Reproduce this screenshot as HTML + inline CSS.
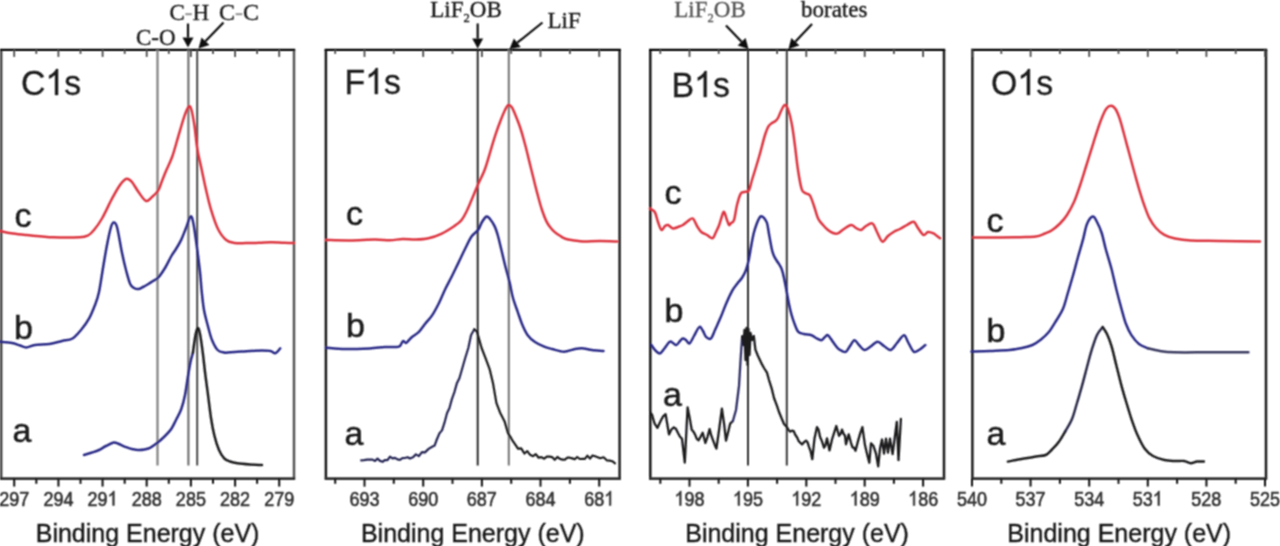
<!DOCTYPE html>
<html><head><meta charset="utf-8"><style>
html,body{margin:0;padding:0;background:#fff;}
body{width:1280px;height:546px;overflow:hidden;}
svg{display:block;}
#wrap{width:1280px;height:546px;}
.tl{font-family:"Liberation Sans",sans-serif;font-size:20px;fill:#333;stroke:#333;stroke-width:0.6;}
.ti{font-family:"Liberation Sans",sans-serif;font-size:36px;fill:#1a1a1a;stroke:#1a1a1a;stroke-width:0.3;}
.ax{font-family:"Liberation Sans",sans-serif;font-size:25px;fill:#1a1a1a;stroke:#1a1a1a;stroke-width:0.4;}
.lb{font-family:"Liberation Sans",sans-serif;font-size:34px;fill:#1a1a1a;stroke:#1a1a1a;stroke-width:0.5;}
.an{font-family:"Liberation Serif",serif;font-size:23px;fill:#1a1a1a;stroke:#1a1a1a;stroke-width:0.35;}
.sub{font-size:12.5px;}
</style></head><body><div id="wrap">
<svg width="1280" height="546" viewBox="0 0 1280 546">
<defs><filter id="bl" filterUnits="userSpaceOnUse" x="0" y="0" width="1280" height="546"><feConvolveMatrix order="3" kernelMatrix="1 2 1 2 4 2 1 2 1" divisor="16" edgeMode="none" preserveAlpha="false"/></filter></defs>
<rect width="1280" height="546" fill="#fff"/>
<g filter="url(#bl)">
<line x1="1.2" y1="49.9" x2="1.2" y2="478.6" stroke="#444" stroke-width="2.5"/>
<line x1="294.0" y1="49.9" x2="294.0" y2="478.6" stroke="#555" stroke-width="2.5"/>
<line x1="-0.1" y1="49.9" x2="295.2" y2="49.9" stroke="#000" stroke-width="2.4"/>
<line x1="-0.1" y1="478.6" x2="295.2" y2="478.6" stroke="#333" stroke-width="2.8"/>
<line x1="14.2" y1="49.9" x2="14.2" y2="56.9" stroke="#4a4a4a" stroke-width="1.8"/>
<line x1="14.2" y1="478.6" x2="14.2" y2="486.6" stroke="#111" stroke-width="2"/>
<line x1="36.3" y1="49.9" x2="36.3" y2="53.9" stroke="#4a4a4a" stroke-width="1.8"/>
<line x1="36.3" y1="478.6" x2="36.3" y2="483.8" stroke="#111" stroke-width="2"/>
<line x1="58.4" y1="49.9" x2="58.4" y2="56.9" stroke="#4a4a4a" stroke-width="1.8"/>
<line x1="58.4" y1="478.6" x2="58.4" y2="486.6" stroke="#111" stroke-width="2"/>
<line x1="80.5" y1="49.9" x2="80.5" y2="53.9" stroke="#4a4a4a" stroke-width="1.8"/>
<line x1="80.5" y1="478.6" x2="80.5" y2="483.8" stroke="#111" stroke-width="2"/>
<line x1="102.6" y1="49.9" x2="102.6" y2="56.9" stroke="#4a4a4a" stroke-width="1.8"/>
<line x1="102.6" y1="478.6" x2="102.6" y2="486.6" stroke="#111" stroke-width="2"/>
<line x1="124.7" y1="49.9" x2="124.7" y2="53.9" stroke="#4a4a4a" stroke-width="1.8"/>
<line x1="124.7" y1="478.6" x2="124.7" y2="483.8" stroke="#111" stroke-width="2"/>
<line x1="146.7" y1="49.9" x2="146.7" y2="56.9" stroke="#4a4a4a" stroke-width="1.8"/>
<line x1="146.7" y1="478.6" x2="146.7" y2="486.6" stroke="#111" stroke-width="2"/>
<line x1="168.8" y1="49.9" x2="168.8" y2="53.9" stroke="#4a4a4a" stroke-width="1.8"/>
<line x1="168.8" y1="478.6" x2="168.8" y2="483.8" stroke="#111" stroke-width="2"/>
<line x1="190.9" y1="49.9" x2="190.9" y2="56.9" stroke="#4a4a4a" stroke-width="1.8"/>
<line x1="190.9" y1="478.6" x2="190.9" y2="486.6" stroke="#111" stroke-width="2"/>
<line x1="213.0" y1="49.9" x2="213.0" y2="53.9" stroke="#4a4a4a" stroke-width="1.8"/>
<line x1="213.0" y1="478.6" x2="213.0" y2="483.8" stroke="#111" stroke-width="2"/>
<line x1="235.1" y1="49.9" x2="235.1" y2="56.9" stroke="#4a4a4a" stroke-width="1.8"/>
<line x1="235.1" y1="478.6" x2="235.1" y2="486.6" stroke="#111" stroke-width="2"/>
<line x1="257.1" y1="49.9" x2="257.1" y2="53.9" stroke="#4a4a4a" stroke-width="1.8"/>
<line x1="257.1" y1="478.6" x2="257.1" y2="483.8" stroke="#111" stroke-width="2"/>
<line x1="279.2" y1="49.9" x2="279.2" y2="56.9" stroke="#4a4a4a" stroke-width="1.8"/>
<line x1="279.2" y1="478.6" x2="279.2" y2="486.6" stroke="#111" stroke-width="2"/>
<g transform="translate(-0.77,505.50) scale(0.900,1)"><text x="0.00" y="0" class="tl">297</text></g>
<g transform="translate(43.39,505.50) scale(0.900,1)"><text x="0.00" y="0" class="tl">294</text></g>
<g transform="translate(87.55,505.50) scale(0.900,1)"><text x="0.00" y="0" class="tl">29</text><path d="M763,0 H583 V1147 Q518,1085 412,1023 T223,930 V1104 Q374,1175 487,1276 T647,1472 H763 Z" transform="translate(22.25,0) scale(0.00977,-0.00977)" fill="#333" stroke="#333" stroke-width="61.4"/></g>
<g transform="translate(131.71,505.50) scale(0.900,1)"><text x="0.00" y="0" class="tl">288</text></g>
<g transform="translate(175.87,505.50) scale(0.900,1)"><text x="0.00" y="0" class="tl">285</text></g>
<g transform="translate(220.03,505.50) scale(0.900,1)"><text x="0.00" y="0" class="tl">282</text></g>
<g transform="translate(264.19,505.50) scale(0.900,1)"><text x="0.00" y="0" class="tl">279</text></g>
<line x1="325.9" y1="49.9" x2="325.9" y2="478.6" stroke="#1a1a1a" stroke-width="2.5"/>
<line x1="619.6" y1="49.9" x2="619.6" y2="478.6" stroke="#222" stroke-width="2.5"/>
<line x1="324.6" y1="49.9" x2="620.9" y2="49.9" stroke="#000" stroke-width="2.4"/>
<line x1="324.6" y1="478.6" x2="620.9" y2="478.6" stroke="#333" stroke-width="2.8"/>
<line x1="335.2" y1="49.9" x2="335.2" y2="53.9" stroke="#4a4a4a" stroke-width="1.8"/>
<line x1="335.2" y1="478.6" x2="335.2" y2="483.8" stroke="#111" stroke-width="2"/>
<line x1="364.5" y1="49.9" x2="364.5" y2="56.9" stroke="#4a4a4a" stroke-width="1.8"/>
<line x1="364.5" y1="478.6" x2="364.5" y2="486.6" stroke="#111" stroke-width="2"/>
<line x1="393.8" y1="49.9" x2="393.8" y2="53.9" stroke="#4a4a4a" stroke-width="1.8"/>
<line x1="393.8" y1="478.6" x2="393.8" y2="483.8" stroke="#111" stroke-width="2"/>
<line x1="423.2" y1="49.9" x2="423.2" y2="56.9" stroke="#4a4a4a" stroke-width="1.8"/>
<line x1="423.2" y1="478.6" x2="423.2" y2="486.6" stroke="#111" stroke-width="2"/>
<line x1="452.5" y1="49.9" x2="452.5" y2="53.9" stroke="#4a4a4a" stroke-width="1.8"/>
<line x1="452.5" y1="478.6" x2="452.5" y2="483.8" stroke="#111" stroke-width="2"/>
<line x1="481.9" y1="49.9" x2="481.9" y2="56.9" stroke="#4a4a4a" stroke-width="1.8"/>
<line x1="481.9" y1="478.6" x2="481.9" y2="486.6" stroke="#111" stroke-width="2"/>
<line x1="511.2" y1="49.9" x2="511.2" y2="53.9" stroke="#4a4a4a" stroke-width="1.8"/>
<line x1="511.2" y1="478.6" x2="511.2" y2="483.8" stroke="#111" stroke-width="2"/>
<line x1="540.5" y1="49.9" x2="540.5" y2="56.9" stroke="#4a4a4a" stroke-width="1.8"/>
<line x1="540.5" y1="478.6" x2="540.5" y2="486.6" stroke="#111" stroke-width="2"/>
<line x1="569.9" y1="49.9" x2="569.9" y2="53.9" stroke="#4a4a4a" stroke-width="1.8"/>
<line x1="569.9" y1="478.6" x2="569.9" y2="483.8" stroke="#111" stroke-width="2"/>
<line x1="599.2" y1="49.9" x2="599.2" y2="56.9" stroke="#4a4a4a" stroke-width="1.8"/>
<line x1="599.2" y1="478.6" x2="599.2" y2="486.6" stroke="#111" stroke-width="2"/>
<g transform="translate(349.48,505.50) scale(0.900,1)"><text x="0.00" y="0" class="tl">693</text></g>
<g transform="translate(408.16,505.50) scale(0.900,1)"><text x="0.00" y="0" class="tl">690</text></g>
<g transform="translate(466.84,505.50) scale(0.900,1)"><text x="0.00" y="0" class="tl">687</text></g>
<g transform="translate(525.52,505.50) scale(0.900,1)"><text x="0.00" y="0" class="tl">684</text></g>
<g transform="translate(584.20,505.50) scale(0.900,1)"><text x="0.00" y="0" class="tl">68</text><path d="M763,0 H583 V1147 Q518,1085 412,1023 T223,930 V1104 Q374,1175 487,1276 T647,1472 H763 Z" transform="translate(22.25,0) scale(0.00977,-0.00977)" fill="#333" stroke="#333" stroke-width="61.4"/></g>
<line x1="650.3" y1="49.9" x2="650.3" y2="478.6" stroke="#1a1a1a" stroke-width="2.5"/>
<line x1="944.0" y1="49.9" x2="944.0" y2="478.6" stroke="#1e1e1e" stroke-width="2.5"/>
<line x1="649.0" y1="49.9" x2="945.2" y2="49.9" stroke="#000" stroke-width="2.4"/>
<line x1="649.0" y1="478.6" x2="945.2" y2="478.6" stroke="#333" stroke-width="2.8"/>
<line x1="660.3" y1="49.9" x2="660.3" y2="53.9" stroke="#4a4a4a" stroke-width="1.8"/>
<line x1="660.3" y1="478.6" x2="660.3" y2="483.8" stroke="#111" stroke-width="2"/>
<line x1="689.5" y1="49.9" x2="689.5" y2="56.9" stroke="#4a4a4a" stroke-width="1.8"/>
<line x1="689.5" y1="478.6" x2="689.5" y2="486.6" stroke="#111" stroke-width="2"/>
<line x1="718.7" y1="49.9" x2="718.7" y2="53.9" stroke="#4a4a4a" stroke-width="1.8"/>
<line x1="718.7" y1="478.6" x2="718.7" y2="483.8" stroke="#111" stroke-width="2"/>
<line x1="747.9" y1="49.9" x2="747.9" y2="56.9" stroke="#4a4a4a" stroke-width="1.8"/>
<line x1="747.9" y1="478.6" x2="747.9" y2="486.6" stroke="#111" stroke-width="2"/>
<line x1="777.1" y1="49.9" x2="777.1" y2="53.9" stroke="#4a4a4a" stroke-width="1.8"/>
<line x1="777.1" y1="478.6" x2="777.1" y2="483.8" stroke="#111" stroke-width="2"/>
<line x1="806.3" y1="49.9" x2="806.3" y2="56.9" stroke="#4a4a4a" stroke-width="1.8"/>
<line x1="806.3" y1="478.6" x2="806.3" y2="486.6" stroke="#111" stroke-width="2"/>
<line x1="835.5" y1="49.9" x2="835.5" y2="53.9" stroke="#4a4a4a" stroke-width="1.8"/>
<line x1="835.5" y1="478.6" x2="835.5" y2="483.8" stroke="#111" stroke-width="2"/>
<line x1="864.7" y1="49.9" x2="864.7" y2="56.9" stroke="#4a4a4a" stroke-width="1.8"/>
<line x1="864.7" y1="478.6" x2="864.7" y2="486.6" stroke="#111" stroke-width="2"/>
<line x1="893.9" y1="49.9" x2="893.9" y2="53.9" stroke="#4a4a4a" stroke-width="1.8"/>
<line x1="893.9" y1="478.6" x2="893.9" y2="483.8" stroke="#111" stroke-width="2"/>
<line x1="923.1" y1="49.9" x2="923.1" y2="56.9" stroke="#4a4a4a" stroke-width="1.8"/>
<line x1="923.1" y1="478.6" x2="923.1" y2="486.6" stroke="#111" stroke-width="2"/>
<g transform="translate(674.48,505.50) scale(0.900,1)"><path d="M763,0 H583 V1147 Q518,1085 412,1023 T223,930 V1104 Q374,1175 487,1276 T647,1472 H763 Z" transform="translate(0.00,0) scale(0.00977,-0.00977)" fill="#333" stroke="#333" stroke-width="61.4"/><text x="11.12" y="0" class="tl">98</text></g>
<g transform="translate(732.89,505.50) scale(0.900,1)"><path d="M763,0 H583 V1147 Q518,1085 412,1023 T223,930 V1104 Q374,1175 487,1276 T647,1472 H763 Z" transform="translate(0.00,0) scale(0.00977,-0.00977)" fill="#333" stroke="#333" stroke-width="61.4"/><text x="11.12" y="0" class="tl">95</text></g>
<g transform="translate(791.30,505.50) scale(0.900,1)"><path d="M763,0 H583 V1147 Q518,1085 412,1023 T223,930 V1104 Q374,1175 487,1276 T647,1472 H763 Z" transform="translate(0.00,0) scale(0.00977,-0.00977)" fill="#333" stroke="#333" stroke-width="61.4"/><text x="11.12" y="0" class="tl">92</text></g>
<g transform="translate(849.71,505.50) scale(0.900,1)"><path d="M763,0 H583 V1147 Q518,1085 412,1023 T223,930 V1104 Q374,1175 487,1276 T647,1472 H763 Z" transform="translate(0.00,0) scale(0.00977,-0.00977)" fill="#333" stroke="#333" stroke-width="61.4"/><text x="11.12" y="0" class="tl">89</text></g>
<g transform="translate(908.12,505.50) scale(0.900,1)"><path d="M763,0 H583 V1147 Q518,1085 412,1023 T223,930 V1104 Q374,1175 487,1276 T647,1472 H763 Z" transform="translate(0.00,0) scale(0.00977,-0.00977)" fill="#333" stroke="#333" stroke-width="61.4"/><text x="11.12" y="0" class="tl">86</text></g>
<line x1="972.4" y1="49.9" x2="972.4" y2="478.6" stroke="#1e1e1e" stroke-width="2.5"/>
<line x1="1266.0" y1="49.9" x2="1266.0" y2="478.6" stroke="#1e1e1e" stroke-width="2.5"/>
<line x1="971.1" y1="49.9" x2="1267.2" y2="49.9" stroke="#000" stroke-width="2.4"/>
<line x1="971.1" y1="478.6" x2="1267.2" y2="478.6" stroke="#333" stroke-width="2.8"/>
<line x1="972.0" y1="49.9" x2="972.0" y2="56.9" stroke="#4a4a4a" stroke-width="1.8"/>
<line x1="972.0" y1="478.6" x2="972.0" y2="486.6" stroke="#111" stroke-width="2"/>
<line x1="1001.3" y1="49.9" x2="1001.3" y2="53.9" stroke="#4a4a4a" stroke-width="1.8"/>
<line x1="1001.3" y1="478.6" x2="1001.3" y2="483.8" stroke="#111" stroke-width="2"/>
<line x1="1030.6" y1="49.9" x2="1030.6" y2="56.9" stroke="#4a4a4a" stroke-width="1.8"/>
<line x1="1030.6" y1="478.6" x2="1030.6" y2="486.6" stroke="#111" stroke-width="2"/>
<line x1="1059.9" y1="49.9" x2="1059.9" y2="53.9" stroke="#4a4a4a" stroke-width="1.8"/>
<line x1="1059.9" y1="478.6" x2="1059.9" y2="483.8" stroke="#111" stroke-width="2"/>
<line x1="1089.2" y1="49.9" x2="1089.2" y2="56.9" stroke="#4a4a4a" stroke-width="1.8"/>
<line x1="1089.2" y1="478.6" x2="1089.2" y2="486.6" stroke="#111" stroke-width="2"/>
<line x1="1118.5" y1="49.9" x2="1118.5" y2="53.9" stroke="#4a4a4a" stroke-width="1.8"/>
<line x1="1118.5" y1="478.6" x2="1118.5" y2="483.8" stroke="#111" stroke-width="2"/>
<line x1="1147.8" y1="49.9" x2="1147.8" y2="56.9" stroke="#4a4a4a" stroke-width="1.8"/>
<line x1="1147.8" y1="478.6" x2="1147.8" y2="486.6" stroke="#111" stroke-width="2"/>
<line x1="1177.1" y1="49.9" x2="1177.1" y2="53.9" stroke="#4a4a4a" stroke-width="1.8"/>
<line x1="1177.1" y1="478.6" x2="1177.1" y2="483.8" stroke="#111" stroke-width="2"/>
<line x1="1206.4" y1="49.9" x2="1206.4" y2="56.9" stroke="#4a4a4a" stroke-width="1.8"/>
<line x1="1206.4" y1="478.6" x2="1206.4" y2="486.6" stroke="#111" stroke-width="2"/>
<line x1="1235.7" y1="49.9" x2="1235.7" y2="53.9" stroke="#4a4a4a" stroke-width="1.8"/>
<line x1="1235.7" y1="478.6" x2="1235.7" y2="483.8" stroke="#111" stroke-width="2"/>
<line x1="1265.0" y1="49.9" x2="1265.0" y2="56.9" stroke="#4a4a4a" stroke-width="1.8"/>
<line x1="1265.0" y1="478.6" x2="1265.0" y2="486.6" stroke="#111" stroke-width="2"/>
<g transform="translate(956.98,505.50) scale(0.900,1)"><text x="0.00" y="0" class="tl">540</text></g>
<g transform="translate(1015.57,505.50) scale(0.900,1)"><text x="0.00" y="0" class="tl">537</text></g>
<g transform="translate(1074.16,505.50) scale(0.900,1)"><text x="0.00" y="0" class="tl">534</text></g>
<g transform="translate(1132.75,505.50) scale(0.900,1)"><text x="0.00" y="0" class="tl">53</text><path d="M763,0 H583 V1147 Q518,1085 412,1023 T223,930 V1104 Q374,1175 487,1276 T647,1472 H763 Z" transform="translate(22.25,0) scale(0.00977,-0.00977)" fill="#333" stroke="#333" stroke-width="61.4"/></g>
<g transform="translate(1191.34,505.50) scale(0.900,1)"><text x="0.00" y="0" class="tl">528</text></g>
<g transform="translate(1249.93,505.50) scale(0.900,1)"><text x="0.00" y="0" class="tl">525</text></g>
<line x1="157.5" y1="49.9" x2="157.5" y2="465.5" stroke="#8a8a8a" stroke-width="2.4"/>
<line x1="188.4" y1="49.9" x2="188.4" y2="465.5" stroke="#6e6e6e" stroke-width="2.1"/>
<line x1="197.2" y1="49.9" x2="197.2" y2="465.5" stroke="#4a4a4a" stroke-width="2.0"/>
<line x1="477.7" y1="49.9" x2="477.7" y2="465.5" stroke="#2a2a2a" stroke-width="2.0"/>
<line x1="508.8" y1="49.9" x2="508.8" y2="465.5" stroke="#7a7a7a" stroke-width="2.1"/>
<line x1="748.0" y1="49.9" x2="748.0" y2="465.5" stroke="#333" stroke-width="2.0"/>
<line x1="786.8" y1="49.9" x2="786.8" y2="465.5" stroke="#3a3a3a" stroke-width="2.0"/>
<path d="M0.0,231.0 C2.2,231.4 8.6,232.8 13.0,233.5 C17.4,234.2 19.8,234.4 26.5,235.0 C33.2,235.6 44.2,236.9 53.0,237.3 C61.8,237.7 73.8,237.6 79.6,237.3 C85.4,237.0 85.6,236.7 88.0,235.5 C90.4,234.3 91.7,232.8 94.0,230.0 C96.3,227.2 99.0,223.7 102.0,218.5 C105.0,213.3 109.0,204.3 112.0,198.7 C115.0,193.1 117.8,188.2 120.0,185.0 C122.2,181.8 123.7,180.5 125.0,179.5 C126.3,178.5 126.8,178.6 128.0,179.0 C129.2,179.4 130.2,179.8 132.0,182.0 C133.8,184.2 136.2,188.8 138.5,192.0 C140.8,195.2 143.8,200.2 146.0,201.0 C148.2,201.8 150.0,198.7 152.0,197.0 C154.0,195.3 156.4,193.4 158.1,190.7 C159.8,188.0 160.7,184.3 162.0,181.0 C163.3,177.7 164.5,174.7 166.2,170.6 C167.9,166.5 170.3,162.2 172.3,156.5 C174.3,150.8 176.3,143.0 178.3,136.3 C180.3,129.6 182.7,121.1 184.4,116.1 C186.2,111.1 187.6,107.5 188.8,106.5 C190.0,105.5 190.6,106.8 191.5,110.0 C192.4,113.2 193.5,119.4 194.5,126.0 C195.5,132.6 196.2,142.4 197.4,149.5 C198.6,156.6 200.1,162.3 201.5,168.7 C202.9,175.1 204.0,181.0 205.6,187.9 C207.2,194.8 209.0,203.1 211.1,209.9 C213.2,216.8 215.5,224.0 218.0,229.0 C220.5,234.0 223.4,237.7 226.2,240.0 C228.9,242.3 231.2,242.4 234.5,242.9 C237.8,243.4 241.9,243.1 246.0,243.1 C250.1,243.1 254.8,243.0 259.0,242.8 C263.2,242.7 266.8,242.2 271.0,242.2 C275.2,242.2 280.2,242.7 284.0,242.8 C287.8,243.0 292.3,243.1 294.0,243.1" fill="none" stroke="#dc3440" stroke-width="2.50" stroke-linejoin="round" stroke-linecap="round" />
<path d="M0.0,341.8 C2.0,342.0 8.7,342.4 12.0,343.0 C15.3,343.6 17.6,344.8 20.0,345.5 C22.4,346.2 23.9,347.5 26.4,347.4 C28.9,347.3 31.1,345.6 35.0,345.0 C38.9,344.4 45.0,344.7 49.5,344.0 C54.0,343.3 58.2,341.9 62.0,341.0 C65.8,340.1 69.3,340.3 72.5,338.5 C75.7,336.7 78.2,333.3 81.0,330.0 C83.8,326.7 86.7,322.9 89.0,318.7 C91.3,314.5 93.3,309.4 95.0,305.0 C96.7,300.6 97.7,298.2 99.0,292.0 C100.3,285.8 101.7,275.8 103.0,268.0 C104.3,260.2 105.7,251.8 107.0,245.0 C108.3,238.2 109.9,230.8 111.0,227.0 C112.1,223.2 112.7,222.4 113.7,222.4 C114.7,222.4 115.6,221.9 117.0,227.0 C118.4,232.1 120.5,245.6 122.0,252.8 C123.5,260.0 124.6,264.8 126.0,270.0 C127.4,275.2 128.9,281.0 130.2,284.0 C131.5,287.0 132.6,287.2 134.0,288.0 C135.4,288.8 137.0,289.2 138.5,289.0 C140.0,288.8 141.3,287.8 143.0,287.0 C144.7,286.2 146.7,285.0 148.4,284.0 C150.1,283.0 151.3,282.1 153.0,281.0 C154.7,279.9 156.3,279.7 158.3,277.5 C160.3,275.3 162.8,271.6 165.0,268.0 C167.2,264.4 169.6,259.2 171.4,256.0 C173.2,252.8 174.3,251.7 176.0,249.0 C177.7,246.3 179.6,243.1 181.3,239.6 C183.0,236.1 184.4,231.8 186.0,228.0 C187.6,224.2 189.3,217.2 190.6,216.5 C191.8,215.8 192.4,218.5 193.5,224.0 C194.6,229.5 196.1,241.5 197.2,249.5 C198.3,257.5 199.2,264.9 200.0,272.0 C200.8,279.1 201.1,286.0 201.8,292.3 C202.5,298.6 203.0,304.5 204.0,310.0 C205.0,315.5 206.4,320.3 207.7,325.3 C209.0,330.3 210.3,335.9 212.0,340.0 C213.7,344.1 215.6,347.9 217.6,350.0 C219.6,352.1 221.8,352.1 224.0,352.5 C226.2,352.9 226.5,352.6 230.8,352.3 C235.1,352.1 244.8,351.3 250.0,351.0 C255.2,350.7 258.6,350.5 262.0,350.5 C265.4,350.5 268.2,350.5 270.4,351.0 C272.6,351.5 273.7,353.7 275.3,353.3 C276.9,352.9 279.4,349.2 280.2,348.4" fill="none" stroke="#2c2c88" stroke-width="2.50" stroke-linejoin="round" stroke-linecap="round" />
<path d="M84.0,455.0 C85.3,454.6 89.5,453.3 92.0,452.5 C94.5,451.7 96.7,451.1 99.0,450.0 C101.3,448.9 103.5,447.2 106.0,446.0 C108.5,444.8 111.5,442.8 113.7,442.5 C115.9,442.2 117.1,443.3 119.0,444.0 C120.9,444.7 123.1,446.0 125.3,446.8 C127.5,447.6 129.8,448.5 132.0,449.0 C134.2,449.5 135.8,450.1 138.5,450.0 C141.2,449.9 145.1,449.8 148.4,448.5 C151.7,447.2 155.5,444.1 158.3,442.0 C161.1,439.9 162.8,438.2 165.0,436.0 C167.2,433.8 169.6,431.4 171.4,428.7 C173.2,426.0 174.3,423.3 176.0,420.0 C177.7,416.7 179.8,413.2 181.3,409.0 C182.8,404.8 183.9,400.5 185.0,395.0 C186.1,389.5 187.1,381.5 188.0,376.0 C188.9,370.5 189.7,365.9 190.5,362.0 C191.3,358.1 192.5,354.4 192.9,352.9" fill="none" stroke="#2c2c88" stroke-width="2.50" stroke-linejoin="round" stroke-linecap="round" />
<path d="M192.9,352.9 C193.3,349.9 194.7,339.1 195.5,335.0 C196.3,330.9 197.1,328.2 197.8,328.0 C198.6,327.8 199.2,329.9 200.0,334.0 C200.8,338.1 202.0,346.6 202.8,352.9 C203.6,359.2 204.2,365.4 205.0,372.0 C205.8,378.6 206.7,384.7 207.7,392.4 C208.7,400.1 209.9,410.9 211.0,418.0 C212.1,425.1 213.0,430.0 214.3,435.3 C215.6,440.6 217.3,446.1 219.0,450.0 C220.7,453.9 222.4,456.5 224.2,458.4 C226.0,460.3 227.8,460.7 230.0,461.5 C232.2,462.3 234.1,462.8 237.4,463.3 C240.7,463.8 245.9,464.2 250.0,464.5 C254.1,464.8 260.0,464.9 262.0,465.0" fill="none" stroke="#1c1c1e" stroke-width="2.50" stroke-linejoin="round" stroke-linecap="round" />
<path d="M326.0,240.0 C330.0,240.1 341.8,240.6 350.0,240.5 C358.2,240.4 368.3,239.5 375.0,239.5 C381.7,239.5 385.4,240.4 390.0,240.3 C394.6,240.2 398.5,239.1 402.8,239.0 C407.1,238.9 411.3,239.7 415.6,239.6 C419.9,239.5 424.2,239.3 428.5,238.3 C432.8,237.3 437.0,235.8 441.3,233.8 C445.6,231.8 450.7,228.5 454.1,226.2 C457.5,223.8 459.7,222.3 461.8,219.7 C463.9,217.1 465.4,213.8 466.9,210.8 C468.4,207.8 469.1,205.9 470.9,201.6 C472.7,197.3 475.5,190.3 477.8,185.0 C480.1,179.7 482.5,175.6 484.6,170.0 C486.7,164.4 488.6,157.2 490.4,151.3 C492.2,145.4 493.8,139.7 495.5,134.6 C497.2,129.5 499.0,124.6 500.6,120.5 C502.2,116.4 503.7,112.6 505.0,110.0 C506.3,107.4 507.1,105.4 508.3,105.0 C509.5,104.6 510.7,105.6 512.0,107.5 C513.3,109.4 514.7,113.2 516.0,116.5 C517.3,119.8 518.6,122.9 520.0,127.0 C521.4,131.1 523.0,136.7 524.2,141.2 C525.5,145.7 526.4,149.4 527.5,154.0 C528.6,158.6 529.9,163.9 531.1,168.7 C532.3,173.4 533.4,177.9 534.5,182.5 C535.6,187.1 536.8,191.4 538.0,196.0 C539.2,200.6 540.6,205.8 542.0,210.0 C543.4,214.2 544.9,218.1 546.2,220.9 C547.5,223.7 548.6,225.2 550.0,227.0 C551.4,228.8 552.8,230.4 554.5,231.9 C556.2,233.4 558.2,234.7 560.0,235.8 C561.8,236.9 562.9,237.9 565.4,238.7 C567.9,239.5 572.0,240.0 575.0,240.5 C578.0,241.0 579.1,241.4 583.3,241.5 C587.5,241.6 594.4,241.0 600.0,241.0 C605.6,241.0 614.2,241.4 617.0,241.5" fill="none" stroke="#dc3440" stroke-width="2.50" stroke-linejoin="round" stroke-linecap="round" />
<path d="M326.0,347.7 C329.2,347.9 337.8,348.9 345.0,349.0 C352.2,349.1 362.8,348.7 369.5,348.4 C376.2,348.1 380.6,347.2 385.0,347.0 C389.4,346.8 393.3,347.2 395.8,347.0 C398.3,346.8 398.8,347.0 400.0,346.0 C401.2,345.0 402.0,341.5 403.0,341.0 C404.0,340.5 405.0,343.2 406.0,343.0 C407.0,342.8 408.0,341.0 409.0,340.0 C410.0,339.0 410.4,338.4 412.0,337.0 C413.6,335.6 416.7,334.1 418.9,331.9 C421.1,329.7 422.8,326.8 425.0,324.0 C427.2,321.2 429.8,318.9 432.1,315.4 C434.4,311.9 436.8,307.4 439.0,303.0 C441.2,298.6 443.1,293.5 445.3,289.0 C447.5,284.5 449.8,280.4 452.0,276.0 C454.2,271.6 456.3,267.1 458.5,262.6 C460.7,258.1 462.8,253.4 465.0,249.0 C467.2,244.6 469.5,239.5 471.7,236.3 C473.9,233.1 476.6,232.1 478.3,229.7 C480.0,227.3 480.6,224.2 482.0,222.0 C483.4,219.8 485.2,217.0 486.5,216.5 C487.8,216.0 488.6,217.3 490.0,219.0 C491.4,220.7 493.4,223.6 494.7,226.4 C496.0,229.2 496.9,232.2 498.0,236.0 C499.1,239.8 500.1,244.7 501.3,249.5 C502.5,254.3 503.6,259.5 505.0,265.0 C506.4,270.5 508.3,276.9 509.6,282.4 C510.9,287.9 511.6,293.1 513.0,298.0 C514.4,302.9 516.3,307.8 517.8,312.1 C519.3,316.4 520.4,320.1 522.0,324.0 C523.6,327.9 525.5,332.2 527.7,335.2 C529.9,338.2 532.2,340.1 535.0,342.0 C537.8,343.9 541.4,345.5 544.2,346.7 C547.0,347.9 548.7,348.2 552.0,349.0 C555.3,349.8 560.2,351.7 564.0,351.7 C567.8,351.7 571.7,349.6 575.0,349.0 C578.3,348.4 581.0,348.2 583.8,348.4 C586.6,348.6 588.7,349.6 592.0,350.0 C595.3,350.4 601.6,350.8 603.5,351.0" fill="none" stroke="#2c2c88" stroke-width="2.50" stroke-linejoin="round" stroke-linecap="round" />
<path d="M361.2,460.4 L364.1,460.2 L367.1,459.7 L370.0,459.6 L372.5,459.6 L375.0,461.0 L377.5,458.6 L380.0,460.9 L382.5,461.8 L385.0,460.0 L387.5,460.2 L390.0,456.6 L392.5,458.3 L395.0,457.9 L397.4,459.4 L399.9,459.9 L402.4,458.2 L404.9,458.0 L407.5,457.2 L410.0,458.5 L413.0,457.3 L415.9,454.4 L418.9,456.1 L421.9,452.2 L425.0,452.4 L428.6,448.9 L432.1,446.7 L434.6,445.6 L437.0,439.0 L439.5,433.3 L442.0,430.4 L444.5,422.7 L447.0,413.2 L449.4,408.2 L451.9,399.1 L454.4,392.1 L457.0,382.9 L459.4,378.2 L461.8,370.0 L465.0,358.7 L468.4,347.7 L471.0,335.3 L474.3,329.3" fill="none" stroke="#262655" stroke-width="2.20" stroke-linejoin="round" stroke-linecap="round" />
<path d="M474.3,329.3 L477.0,331.8 L479.0,338.7 L481.6,348.0 L486.0,359.3 L489.8,369.7 L493.0,383.2 L496.4,402.9 L500.0,412.4 L504.6,421.4 L508.0,433.1 L510.4,436.9 L512.9,441.2 L515.5,444.9 L518.0,448.7 L521.2,448.3 L524.4,453.5 L527.3,451.1 L530.1,454.8 L533.0,456.2 L535.8,454.1 L538.6,457.7 L541.4,457.1 L544.2,458.7 L546.8,456.6 L549.5,456.6 L552.1,457.1 L554.7,459.8 L557.4,457.0 L560.0,458.9 L562.5,459.6 L564.9,459.7 L567.4,457.6 L569.8,457.7 L572.3,458.4 L574.7,459.3 L577.2,457.0 L579.8,459.0 L582.3,458.9 L584.9,458.9 L587.4,455.6 L590.0,458.6 L592.5,455.5 L595.1,456.3 L597.7,457.2 L600.2,458.2 L603.6,457.3 L607.0,460.5 L609.7,460.6 L612.3,461.2 L615.0,463.3" fill="none" stroke="#1c1c1e" stroke-width="2.20" stroke-linejoin="round" stroke-linecap="round" />
<path d="M649.9,208.6 C650.7,209.2 653.4,209.8 654.8,212.0 C656.1,214.2 656.9,219.0 658.0,222.0 C659.1,225.0 660.2,229.3 661.4,230.0 C662.6,230.7 663.9,226.8 665.0,226.0 C666.1,225.2 666.7,224.6 668.0,225.0 C669.3,225.4 671.3,228.1 673.0,228.4 C674.7,228.7 676.4,227.6 678.0,227.0 C679.6,226.4 681.2,226.0 682.9,225.0 C684.6,224.0 686.4,222.1 688.0,221.0 C689.6,219.9 691.3,217.7 692.8,218.5 C694.3,219.3 695.6,223.8 697.0,226.0 C698.4,228.2 699.3,230.2 701.0,231.7 C702.7,233.2 705.1,233.9 707.0,235.0 C708.9,236.1 711.1,238.8 712.6,238.3 C714.1,237.8 714.9,234.2 716.0,232.0 C717.1,229.8 718.2,227.7 719.2,225.0 C720.2,222.3 721.2,218.2 722.0,216.0 C722.8,213.8 723.3,211.3 724.1,212.0 C724.9,212.7 726.2,217.8 727.0,220.0 C727.8,222.2 728.3,224.5 729.0,225.0 C729.7,225.5 730.2,223.8 731.0,223.0 C731.8,222.2 733.0,223.2 734.0,220.2 C735.0,217.2 735.9,209.4 737.0,205.0 C738.1,200.6 739.4,196.0 740.6,193.8 C741.8,191.6 742.6,192.6 744.0,192.0 C745.4,191.4 747.5,192.5 748.8,190.5 C750.1,188.5 750.9,183.6 752.0,180.0 C753.1,176.4 754.2,172.8 755.4,169.0 C756.6,165.2 757.9,160.8 759.0,157.0 C760.1,153.2 761.0,149.7 762.0,146.0 C763.0,142.3 763.9,138.3 765.0,135.0 C766.1,131.7 767.4,128.2 768.6,126.2 C769.8,124.2 770.9,123.8 772.0,123.0 C773.1,122.2 774.2,122.0 775.2,121.2 C776.2,120.4 777.2,119.4 778.0,118.0 C778.8,116.6 779.4,114.8 780.2,113.0 C781.0,111.2 782.2,108.4 783.0,107.0 C783.8,105.6 784.4,104.5 785.1,104.7 C785.9,104.9 786.7,106.1 787.5,108.0 C788.3,109.9 789.3,113.0 790.1,116.3 C790.9,119.6 791.7,123.0 792.5,128.0 C793.3,132.9 794.1,139.0 795.0,146.0 C795.9,153.0 796.9,162.9 798.0,170.0 C799.1,177.1 800.4,185.0 801.6,188.8 C802.8,192.6 803.6,191.9 805.0,193.0 C806.4,194.1 808.4,193.2 809.9,195.4 C811.4,197.6 812.6,202.2 814.0,206.0 C815.4,209.8 816.6,215.3 818.1,218.5 C819.6,221.7 821.4,223.1 823.0,225.0 C824.6,226.9 826.3,228.7 828.0,230.0 C829.7,231.3 831.4,232.4 833.0,233.0 C834.6,233.6 836.1,234.1 837.9,233.4 C839.7,232.7 841.8,230.4 844.0,229.0 C846.2,227.6 849.1,225.2 851.1,225.0 C853.1,224.8 854.4,227.2 856.0,228.0 C857.6,228.8 859.3,230.3 861.0,230.0 C862.7,229.7 864.1,227.1 866.0,226.0 C867.9,224.9 870.7,222.5 872.5,223.5 C874.3,224.5 875.4,229.0 877.0,232.0 C878.6,235.0 880.6,240.9 882.4,241.6 C884.2,242.3 886.1,237.7 888.0,236.0 C889.9,234.3 892.0,232.9 894.0,231.7 C896.0,230.5 897.8,230.1 900.0,229.0 C902.2,227.9 904.7,226.2 907.0,225.0 C909.3,223.8 911.9,221.3 913.7,221.8 C915.5,222.3 916.4,225.8 918.0,228.0 C919.6,230.2 921.9,234.3 923.6,235.0 C925.3,235.7 926.4,232.3 928.0,232.0 C929.6,231.7 932.0,232.7 933.5,233.4 C935.0,234.1 935.9,235.2 937.0,236.0 C938.1,236.8 939.6,237.9 940.1,238.3" fill="none" stroke="#dc3440" stroke-width="2.50" stroke-linejoin="round" stroke-linecap="round" />
<path d="M651.5,345.1 C652.1,345.9 653.6,348.6 655.0,350.0 C656.4,351.4 658.3,353.6 659.8,353.4 C661.3,353.2 662.4,350.9 664.0,349.0 C665.6,347.1 668.2,342.8 669.7,341.8 C671.2,340.8 671.9,342.4 673.0,343.0 C674.1,343.6 675.1,345.4 676.3,345.1 C677.5,344.8 678.9,342.1 680.0,341.0 C681.1,339.9 681.9,338.7 682.9,338.5 C683.9,338.3 684.9,339.2 686.0,340.0 C687.1,340.8 688.2,344.2 689.5,343.5 C690.8,342.8 692.4,338.8 694.0,336.0 C695.6,333.2 697.9,327.8 699.4,327.0 C700.9,326.2 701.9,329.4 703.0,331.0 C704.1,332.6 704.7,335.6 706.0,336.9 C707.3,338.1 709.4,339.6 710.9,338.5 C712.4,337.4 713.4,333.6 715.0,330.0 C716.6,326.4 719.0,321.4 720.8,317.1 C722.6,312.8 724.1,308.4 726.0,304.0 C727.9,299.6 730.5,294.0 732.3,290.7 C734.1,287.4 735.4,286.2 737.0,284.0 C738.6,281.8 740.7,279.8 742.2,277.5 C743.7,275.2 744.9,273.0 746.0,270.0 C747.1,267.0 748.0,263.2 748.8,259.4 C749.6,255.6 750.2,251.4 751.0,247.0 C751.8,242.6 752.8,237.0 753.8,233.0 C754.8,229.0 756.0,225.7 757.0,223.0 C758.0,220.3 759.2,218.1 760.0,217.0 C760.8,215.9 761.3,216.3 762.0,216.5 C762.7,216.7 763.2,216.9 764.0,218.0 C764.8,219.1 766.2,220.3 767.0,223.0 C767.8,225.7 768.2,229.6 769.0,234.0 C769.8,238.4 771.1,245.8 771.9,249.5 C772.7,253.2 773.2,254.1 774.0,256.0 C774.8,257.9 776.1,259.7 776.9,261.0 C777.7,262.3 778.2,262.6 779.0,264.0 C779.8,265.4 781.0,267.0 781.8,269.3 C782.6,271.6 783.2,274.2 784.0,278.0 C784.8,281.8 786.0,288.0 786.8,292.3 C787.6,296.6 788.2,300.1 789.0,304.0 C789.8,307.9 790.7,311.9 791.7,315.4 C792.7,318.9 793.9,322.2 795.0,325.0 C796.1,327.8 796.8,330.4 798.3,331.9 C799.8,333.4 801.8,333.4 804.0,334.0 C806.2,334.6 809.5,334.5 811.5,335.2 C813.5,335.9 814.4,337.2 816.0,338.0 C817.6,338.8 819.9,340.4 821.4,340.2 C822.9,340.0 823.9,337.8 825.0,337.0 C826.1,336.2 826.7,334.4 828.0,335.2 C829.3,336.0 831.4,339.8 833.0,342.0 C834.6,344.2 836.4,346.9 837.9,348.4 C839.4,349.9 840.6,350.4 842.0,351.0 C843.4,351.6 844.8,352.5 846.1,351.7 C847.4,350.9 848.6,347.9 850.0,346.0 C851.4,344.1 852.9,340.4 854.4,340.2 C855.9,340.0 857.4,343.4 859.0,345.0 C860.6,346.6 862.5,349.7 864.3,350.0 C866.1,350.3 867.8,348.4 870.0,347.0 C872.2,345.6 875.2,342.0 877.5,341.8 C879.8,341.6 881.8,344.6 884.0,346.0 C886.2,347.4 888.5,350.5 890.7,350.0 C892.9,349.5 894.8,345.5 897.0,343.0 C899.2,340.5 902.1,335.4 903.9,335.2 C905.7,335.0 906.4,339.2 908.0,342.0 C909.6,344.8 911.9,350.4 913.7,351.7 C915.5,353.0 917.1,351.1 919.0,350.0 C920.9,348.9 924.2,345.9 925.3,345.1" fill="none" stroke="#2c2c88" stroke-width="2.50" stroke-linejoin="round" stroke-linecap="round" />
<path d="M650.5,412.8 L651.9,414.4 L654.5,423.4 L657.4,427.9 L659.2,424.0 L661.0,420.3 L663.3,416.1 L665.6,414.2 L667.3,424.3 L669.0,434.4 L671.4,429.5 L673.8,427.4 L675.9,428.7 L678.0,433.0 L680.0,436.8 L682.0,438.8 L684.8,462.5 L687.6,407.5 L689.7,418.1 L691.7,429.7 L693.4,431.6 L695.0,434.4 L696.8,438.9 L698.6,440.3 L700.7,436.6 L702.7,432.7 L705.4,443.0 L707.5,436.8 L709.6,429.1 L711.3,435.7 L713.0,440.1 L714.7,444.7 L716.4,448.6 L719.0,430.5 L721.9,408.6 L724.0,423.1 L726.0,440.6 L728.1,432.3 L730.2,423.6 L732.9,421.0" fill="none" stroke="#1c1c1e" stroke-width="2.30" stroke-linejoin="round" stroke-linecap="round" />
<path d="M732.9,421.0 L736.0,410.0 L739.0,385.9 L740.6,359.5 L742.2,336.4" fill="none" stroke="#2e2e66" stroke-width="2.30" stroke-linejoin="round" stroke-linecap="round" />
<path d="M742.2,336.4 L743.5,345.0 L744.5,330.0 L745.5,360.0 L746.5,328.0 L747.5,365.0 L748.5,329.0 L749.5,355.0 L750.5,333.0 L752.0,340.0 L753.8,336.0 L755.4,349.6 L758.0,356.0 L762.0,364.4 L764.0,368.0 L767.0,372.7 L769.0,380.0 L771.9,389.2 L774.0,398.0 L776.9,405.6 L779.0,412.0 L781.8,418.8 L784.0,424.0 L786.8,427.0 L788.4,429.6 L790.0,431.6 L791.9,430.7 L793.7,431.2 L795.4,435.0 L797.0,437.2 L798.7,441.1 L800.3,442.7 L802.0,444.4 L804.0,442.2 L806.0,440.6 L807.5,442.2 L809.0,446.8 L810.6,451.1 L812.3,459.2 L814.5,438.4 L817.0,427.1 L818.5,429.5 L820.0,436.7 L822.0,441.4 L824.0,447.7 L825.5,445.2 L827.0,438.3 L829.5,450.4 L832.0,439.5 L834.1,432.8 L836.3,426.0 L839.0,435.8 L840.5,434.1 L842.0,429.6 L843.5,433.7 L845.0,435.7 L846.0,444.3 L848.7,434.4 L851.0,442.8 L852.5,447.4 L854.0,447.7 L855.5,450.8 L858.0,441.1 L860.2,433.4 L862.4,427.2 L865.0,445.3 L867.1,453.9 L869.3,462.6 L871.0,443.3 L873.4,445.8 L876.0,453.7 L878.2,466.3 L880.0,448.6 L882.0,439.5 L884.0,453.5 L886.0,438.7 L888.0,452.6 L890.0,438.6 L892.6,454.0 L894.5,439.5 L896.8,422.0 L898.5,460.1 L900.9,419.0" fill="none" stroke="#1c1c1e" stroke-width="2.30" stroke-linejoin="round" stroke-linecap="round" />
<path d="M973.2,237.5 C977.7,237.5 992.2,237.6 1000.0,237.5 C1007.8,237.4 1014.0,237.3 1020.0,237.2 C1026.0,237.0 1031.6,237.2 1035.8,236.6 C1040.0,236.0 1042.2,234.6 1045.0,233.5 C1047.8,232.4 1049.8,231.7 1052.3,230.0 C1054.8,228.3 1057.5,226.0 1060.0,223.5 C1062.5,221.0 1064.7,218.6 1067.0,215.0 C1069.3,211.4 1071.8,206.9 1074.0,202.0 C1076.2,197.1 1077.9,191.7 1080.0,185.5 C1082.1,179.3 1084.2,172.2 1086.5,165.0 C1088.8,157.8 1091.5,148.9 1093.5,142.6 C1095.5,136.3 1097.0,131.4 1098.5,127.0 C1100.0,122.6 1101.2,119.4 1102.5,116.3 C1103.8,113.2 1105.1,110.3 1106.5,108.5 C1107.9,106.7 1109.5,105.6 1111.0,105.7 C1112.5,105.8 1114.0,106.7 1115.5,109.0 C1117.0,111.3 1118.6,115.4 1120.0,119.6 C1121.4,123.8 1122.5,128.5 1124.0,134.0 C1125.5,139.5 1127.3,146.3 1129.0,152.5 C1130.7,158.7 1132.3,164.9 1134.0,171.0 C1135.7,177.1 1137.3,183.2 1139.0,188.8 C1140.7,194.4 1142.2,199.6 1144.0,204.5 C1145.8,209.4 1147.5,214.5 1149.5,218.4 C1151.5,222.3 1153.5,225.2 1156.0,228.0 C1158.5,230.8 1161.2,233.2 1164.4,234.9 C1167.6,236.7 1170.6,237.6 1175.0,238.5 C1179.4,239.4 1183.2,240.1 1190.7,240.5 C1198.2,240.9 1208.5,240.8 1220.0,241.0 C1231.5,241.2 1253.3,241.4 1260.0,241.5" fill="none" stroke="#dc3440" stroke-width="2.50" stroke-linejoin="round" stroke-linecap="round" />
<path d="M971.5,351.6 C974.6,351.5 983.7,351.3 990.0,351.0 C996.3,350.7 1004.1,350.5 1009.4,350.0 C1014.7,349.5 1018.1,348.8 1022.0,348.0 C1025.8,347.2 1029.3,346.4 1032.5,345.0 C1035.7,343.6 1038.2,341.7 1041.0,339.5 C1043.8,337.3 1046.5,334.9 1049.0,331.8 C1051.5,328.7 1053.7,324.8 1056.0,321.0 C1058.3,317.2 1061.0,313.6 1063.0,308.8 C1065.0,304.1 1066.3,298.1 1068.0,292.5 C1069.7,286.9 1071.3,281.4 1073.0,275.5 C1074.7,269.6 1076.3,263.0 1078.0,257.0 C1079.7,251.0 1081.5,245.1 1083.0,239.6 C1084.5,234.1 1085.4,227.8 1087.0,224.0 C1088.6,220.2 1091.1,216.8 1092.8,216.5 C1094.5,216.2 1095.5,219.2 1097.0,222.0 C1098.5,224.8 1100.2,228.3 1101.7,233.0 C1103.2,237.7 1104.3,244.0 1106.0,250.0 C1107.7,256.0 1109.8,262.5 1111.6,269.2 C1113.3,275.9 1114.8,283.4 1116.5,290.0 C1118.2,296.6 1119.9,303.1 1121.5,308.8 C1123.1,314.5 1124.3,319.6 1126.0,324.0 C1127.7,328.4 1129.2,331.8 1131.4,335.1 C1133.6,338.4 1136.2,341.8 1139.0,344.0 C1141.8,346.2 1146.4,347.6 1147.9,348.3" fill="none" stroke="#2c2c88" stroke-width="2.50" stroke-linejoin="round" stroke-linecap="round" />
<path d="M1147.9,348.3 C1149.9,348.8 1155.6,350.3 1160.0,351.0 C1164.4,351.7 1165.9,352.1 1174.2,352.3 C1182.5,352.5 1197.6,352.3 1210.0,352.3 C1222.4,352.3 1242.0,352.3 1248.4,352.3" fill="none" stroke="#3a3a60" stroke-width="2.50" stroke-linejoin="round" stroke-linecap="round" />
<path d="M1007.8,461.6 C1009.2,461.3 1013.0,460.6 1016.0,460.0 C1019.0,459.4 1022.6,458.9 1025.9,458.3 C1029.2,457.7 1032.7,457.1 1036.0,456.5 C1039.3,455.9 1043.0,456.2 1045.7,455.0 C1048.4,453.8 1049.8,451.7 1052.0,449.5 C1054.2,447.3 1056.7,444.9 1058.9,441.8 C1061.2,438.7 1064.4,432.8 1065.5,431.0" fill="none" stroke="#1c1c1e" stroke-width="2.50" stroke-linejoin="round" stroke-linecap="round" />
<path d="M1065.5,431.0 C1066.6,429.0 1070.2,423.5 1072.1,418.8 C1074.0,414.1 1075.3,408.5 1077.0,403.0 C1078.7,397.5 1080.3,391.8 1082.0,385.8 C1083.7,379.8 1085.4,373.0 1087.0,367.0 C1088.6,361.0 1090.1,354.9 1091.8,349.6 C1093.5,344.3 1095.2,338.8 1097.0,335.0 C1098.8,331.2 1101.8,328.4 1102.7,327.1" fill="none" stroke="#2a2a4a" stroke-width="2.50" stroke-linejoin="round" stroke-linecap="round" />
<path d="M1102.7,327.1 C1103.4,328.2 1105.5,330.8 1107.0,334.0 C1108.5,337.2 1110.0,341.0 1111.6,346.3 C1113.2,351.6 1114.8,359.4 1116.5,366.0 C1118.2,372.6 1119.8,379.6 1121.5,385.8 C1123.2,392.0 1124.8,397.5 1126.5,403.0 C1128.2,408.5 1129.6,413.5 1131.4,418.8 C1133.2,424.1 1135.3,430.1 1137.5,435.0 C1139.7,439.9 1142.0,444.9 1144.6,448.4 C1147.2,451.9 1149.7,454.1 1153.0,456.0 C1156.3,457.9 1160.7,459.2 1164.4,460.0 C1168.1,460.8 1171.7,460.8 1175.0,461.0 C1178.3,461.2 1181.5,460.6 1184.1,461.0 C1186.7,461.4 1188.5,463.2 1190.7,463.3 C1192.9,463.4 1194.8,461.8 1197.0,461.5 C1199.2,461.2 1202.8,461.6 1203.9,461.6" fill="none" stroke="#1c1c1e" stroke-width="2.50" stroke-linejoin="round" stroke-linecap="round" />
<g transform="translate(21.00,95.00) scale(0.940,1)"><text x="0.00" y="0" class="ti">C</text><path d="M763,0 H583 V1147 Q518,1085 412,1023 T223,930 V1104 Q374,1175 487,1276 T647,1472 H763 Z" transform="translate(26.00,0) scale(0.01758,-0.01758)" fill="#1a1a1a" stroke="#1a1a1a" stroke-width="17.1"/><text x="46.02" y="0" class="ti">s</text></g>
<text x="147.6" y="541.5" text-anchor="middle" class="ax">Binding Energy (eV)</text>
<g transform="translate(344.50,94.00) scale(0.940,1)"><text x="0.00" y="0" class="ti">F</text><path d="M763,0 H583 V1147 Q518,1085 412,1023 T223,930 V1104 Q374,1175 487,1276 T647,1472 H763 Z" transform="translate(21.99,0) scale(0.01758,-0.01758)" fill="#1a1a1a" stroke="#1a1a1a" stroke-width="17.1"/><text x="42.01" y="0" class="ti">s</text></g>
<text x="472.8" y="541.5" text-anchor="middle" class="ax">Binding Energy (eV)</text>
<g transform="translate(671.50,97.00) scale(0.940,1)"><text x="0.00" y="0" class="ti">B</text><path d="M763,0 H583 V1147 Q518,1085 412,1023 T223,930 V1104 Q374,1175 487,1276 T647,1472 H763 Z" transform="translate(24.01,0) scale(0.01758,-0.01758)" fill="#1a1a1a" stroke="#1a1a1a" stroke-width="17.1"/><text x="44.03" y="0" class="ti">s</text></g>
<text x="797.1" y="541.5" text-anchor="middle" class="ax">Binding Energy (eV)</text>
<g transform="translate(991.00,95.00) scale(0.940,1)"><text x="0.00" y="0" class="ti">O</text><path d="M763,0 H583 V1147 Q518,1085 412,1023 T223,930 V1104 Q374,1175 487,1276 T647,1472 H763 Z" transform="translate(28.00,0) scale(0.01758,-0.01758)" fill="#1a1a1a" stroke="#1a1a1a" stroke-width="17.1"/><text x="48.02" y="0" class="ti">s</text></g>
<text x="1119.2" y="541.5" text-anchor="middle" class="ax">Binding Energy (eV)</text>
<text x="14.5" y="226.5" class="lb">c</text>
<text x="14.0" y="338.5" class="lb">b</text>
<text x="12.5" y="442.0" class="lb">a</text>
<text x="346.0" y="225.0" class="lb">c</text>
<text x="346.0" y="336.8" class="lb">b</text>
<text x="344.5" y="445.0" class="lb">a</text>
<text x="664.5" y="203.7" class="lb">c</text>
<text x="664.5" y="322.0" class="lb">b</text>
<text x="663.0" y="405.6" class="lb">a</text>
<text x="986.4" y="231.6" class="lb">c</text>
<text x="986.4" y="341.7" class="lb">b</text>
<text x="986.4" y="445.0" class="lb">a</text>
<text x="136" y="45.2" class="an">C-O</text>
<text x="169.5" y="20.3" class="an">C<tspan fill="#999" stroke="#999">-</tspan>H</text>
<text x="219" y="19.8" class="an" style="font-size:24px">C<tspan fill="#999" stroke="#999">-</tspan>C</text>
<text x="430.3" y="17.2" class="an">LiF<tspan class="sub" dy="5">2</tspan><tspan dy="-5">OB</tspan></text>
<text x="547.5" y="27.8" class="an">LiF</text>
<text x="674.3" y="17.2" class="an" style="fill:#555;stroke:#555">LiF<tspan class="sub" dy="5">2</tspan><tspan dy="-5">OB</tspan></text>
<text x="801" y="17.2" class="an">borates</text>
<line x1="188.0" y1="23.5" x2="188.0" y2="37.5" stroke="#111" stroke-width="2.2"/><path d="M188.0,47.5 L182.5,37.5 L193.5,37.5 Z" fill="#111"/>
<line x1="223.5" y1="22.5" x2="205.4" y2="41.3" stroke="#111" stroke-width="2.2"/><path d="M198.5,48.5 L201.5,37.5 L209.4,45.1 Z" fill="#111"/>
<line x1="477.7" y1="23.5" x2="477.7" y2="38.5" stroke="#111" stroke-width="2.2"/><path d="M477.7,48.5 L472.2,38.5 L483.2,38.5 Z" fill="#111"/>
<line x1="542.5" y1="22.5" x2="517.3" y2="42.7" stroke="#111" stroke-width="2.2"/><path d="M509.5,49.0 L513.9,38.5 L520.7,47.0 Z" fill="#111"/>
<line x1="726.0" y1="25.5" x2="741.6" y2="41.8" stroke="#111" stroke-width="2.2"/><path d="M748.5,49.0 L737.6,45.6 L745.6,38.0 Z" fill="#111"/>
<line x1="812.0" y1="24.0" x2="795.3" y2="41.7" stroke="#111" stroke-width="2.2"/><path d="M788.5,49.0 L791.3,37.9 L799.4,45.5 Z" fill="#111"/>
</g></svg></div>
</body></html>
